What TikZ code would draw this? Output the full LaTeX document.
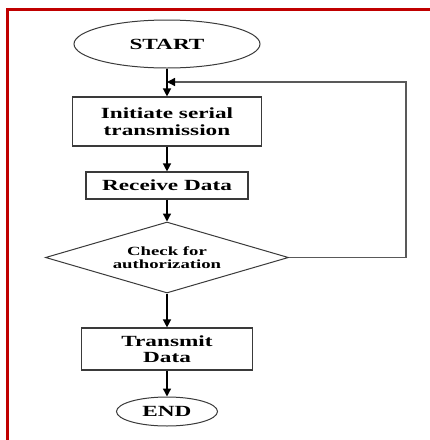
\documentclass[tikz,border=0pt]{standalone}
\usepackage{fontspec}
\setmainfont{Liberation Serif}[FakeStretch=1.5]
\usetikzlibrary{shapes.geometric,arrows.meta}

\definecolor{framered}{HTML}{C00000}
\definecolor{edgegray}{HTML}{3A3A3A}

\begin{document}
\begin{tikzpicture}[x=1pt,y=-1pt,
  txt/.style={font=\fontsize{15.5pt}{16.5pt}\selectfont\bfseries,align=center,inner sep=0pt},
  term/.style={txt,ellipse,draw=edgegray,line width=1pt},
  proc/.style={txt,rectangle,draw=edgegray,line width=1.2pt},
  decide/.style={txt,diamond,draw=edgegray,line width=1pt,aspect=3.4,
    font=\fontsize{12.5pt}{13pt}\selectfont\bfseries},
  flow/.style={line width=1.4pt,-{Triangle[length=8pt,width=8pt]}},
  back/.style={line width=1.4pt,draw=black!65,-{Triangle[length=8pt,width=8pt,color=black]}}]
\useasboundingbox (0,0) rectangle (430,440);
\fill [white] (0,0) rectangle (430,440);
\draw [framered,line width=3pt] (7,9) rectangle (445,455);

% blocks
\node (start) at (167,44) [term,minimum width=186pt,minimum height=48pt] {START};
\node (init) at (167,121.5) [proc,minimum width=189pt,minimum height=49pt] {Initiate serial\\transmission};
\node (recv) at (167,185.5) [proc,minimum width=162pt,minimum height=27pt] {Receive Data};
\node (chk) at (167,257.5) [decide,minimum width=243pt,minimum height=71pt] {Check for\\authorization};
\node (send) at (167,349) [proc,minimum width=171pt,minimum height=42pt] {Transmit\\Data};
\node (stop) at (167,411.5) [term,minimum width=101pt,minimum height=29pt] {END};

% arrows
\draw [flow] (start) -- (init);
\draw [flow] (init) -- (recv);
\draw [flow] (recv) -- (chk);
\draw [flow] (chk) -- (send);
\draw [flow] (send) -- (stop);

% loop back
\coordinate (loop) at (406,82);
\draw [back] (chk.east) -| (loop) -- (start.south |- loop);
\end{tikzpicture}
\end{document}
